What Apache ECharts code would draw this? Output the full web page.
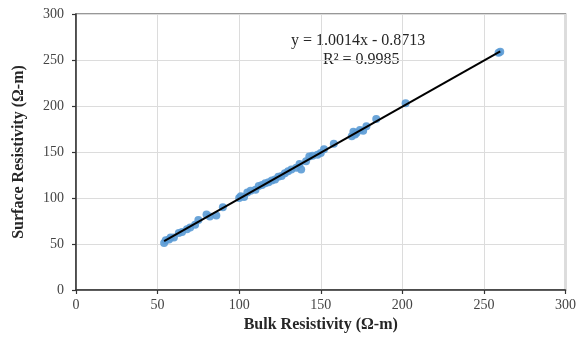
<!DOCTYPE html>
<html>
<head>
<meta charset="utf-8">
<script src="https://cdn.jsdelivr.net/npm/echarts@6/dist/echarts.min.js"></script>
<style>
  html, body { margin: 0; padding: 0; background: #fff; }
  #chart { width: 579px; height: 346px; }
</style>
</head>
<body>
<div id="chart"></div>
<script>
// bulk vs surface resistivity samples (Ω-m)
const bulkResistivity = [54, 55, 57, 58, 60, 63, 65, 68, 70, 73, 75, 80, 82, 86, 90, 100, 101, 103, 105, 107, 110, 112, 114, 116, 118, 120, 122, 124, 126, 128, 130, 132, 135, 137, 138, 141, 143, 145, 148, 150, 152, 158, 169, 170, 171, 172, 174, 176, 178, 184, 202, 259, 260]
const surfaceResistivity = [51, 54, 55, 57, 57, 62, 63, 66, 68, 71, 76, 82, 80, 81, 90, 100, 102, 101, 106, 108, 109, 113, 114, 116, 117, 119, 120, 123, 124, 127, 129, 131, 133, 137, 131, 140, 145, 146, 147, 149, 153, 159, 167, 172, 169, 171, 174, 173, 178, 186, 203, 258, 259]

// linear trendline
const slope = 1.0014
const intercept = -0.8713
const rSquared = 0.9985
const trendRange = [54, 260]

const axisTicks = [0, 50, 100, 150, 200, 250, 300]

const points = bulkResistivity.map((x, i) => [x, surfaceResistivity[i]])
const trendPoints = trendRange.map((x) => [x, slope * x + intercept])

const serif = '"Liberation Serif", "Times New Roman", serif'
const chart = echarts.init(document.getElementById('chart'), null, { renderer: 'canvas' })

const axisCommon = {
  type: 'value',
  min: axisTicks[0],
  max: axisTicks[axisTicks.length - 1],
  interval: 50,
  axisLine: { show: true, lineStyle: { color: '#333', width: 1.5 } },
  axisTick: { show: true, length: 4, lineStyle: { color: '#333', width: 1.2 } },
  axisLabel: { color: '#444', fontFamily: serif, fontSize: 14 },
  splitLine: { show: true, lineStyle: { color: '#dcdcdc', width: 1 } },
  nameLocation: 'middle',
  nameTextStyle: { color: '#262626', fontFamily: serif, fontSize: 16, fontWeight: 'bold' },
}

chart.setOption({
  animation: false,
  backgroundColor: '#fff',
  grid: { left: 76, right: 11, top: 14, bottom: 56, show: true, borderColor: '#777', borderWidth: 1.5 },
  xAxis: {
    ...axisCommon,
    name: 'Bulk Resistivity (Ω-m)',
    nameGap: 27,
    axisLabel: { ...axisCommon.axisLabel, margin: 8 },
  },
  yAxis: {
    ...axisCommon,
    name: 'Surface Resistivity (Ω-m)',
    nameGap: 49,
    axisLabel: { ...axisCommon.axisLabel, margin: 12 },
  },
  series: [
    {
      type: 'scatter',
      data: points,
      symbolSize: 8,
      itemStyle: { color: '#5B9BD5', opacity: 0.9 },
      z: 2,
    },
    {
      type: 'line',
      data: trendPoints,
      showSymbol: false,
      lineStyle: { color: '#000', width: 2 },
      z: 3,
    },
  ],
  graphic: [
    {
      type: 'text',
      left: 291,
      top: 33,
      style: {
        text: `y = ${slope.toFixed(4)}x - ${Math.abs(intercept).toFixed(4)}`,
        fill: '#262626', font: `16px ${serif}`,
      },
    },
    {
      type: 'text',
      left: 323,
      top: 52,
      style: {
        text: `R² = ${rSquared.toFixed(4)}`,
        fill: '#262626', font: `16px ${serif}`,
      },
    },
  ],
})
</script>
</body>
</html>
